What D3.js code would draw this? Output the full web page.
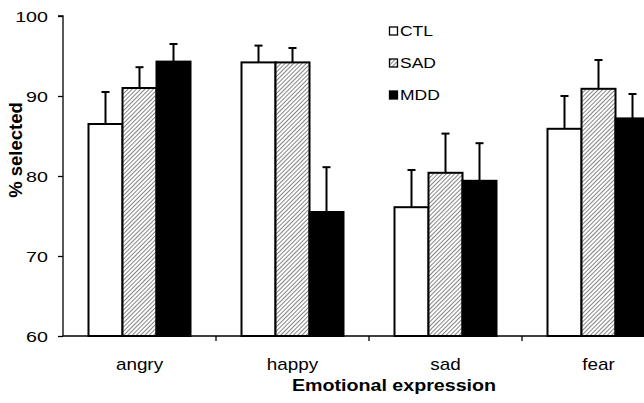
<!DOCTYPE html>
<html><head><meta charset="utf-8">
<script src="https://cdn.jsdelivr.net/npm/d3@7"></script>
<style>body{margin:0;background:#fff}svg{display:block}text{font-family:"Liberation Sans",Arial,sans-serif;fill:#000}</style>
</head><body><svg id="c" width="644" height="403"></svg>
<script>
const categories = ["angry","happy","sad","fear"];
const series = ["CTL","SAD","MDD"];
const CTL = [86.5, 94.2, 76.1, 85.9];
const SAD = [91.0, 94.2, 80.4, 90.9];
const MDD = [94.3, 75.5, 79.4, 87.2];
const CTL_err = [4.0, 2.1, 4.65, 4.1];
const SAD_err = [2.6, 1.8, 4.9, 3.6];
const MDD_err = [2.2, 5.6, 4.7, 3.05];
const yTicks = [60,70,80,90,100];
const xTitle = "Emotional expression";
const yTitle = "% selected";

const values = {CTL, SAD, MDD};
const errs = {CTL: CTL_err, SAD: SAD_err, MDD: MDD_err};

const svg = d3.select("#c");
const defs = svg.append("defs");
const pat = defs.append("pattern").attr("id","hatch").attr("patternUnits","userSpaceOnUse")
  .attr("width",3).attr("height",3).attr("patternTransform","rotate(45)");
pat.append("rect").attr("width",3).attr("height",3).attr("fill","#fff");
pat.append("line").attr("x1",0).attr("y1",0).attr("x2",0).attr("y2",3).attr("stroke","#333").attr("stroke-width",1.2);

const x0 = 63, y0 = 336;
const x = d3.scaleBand().domain(categories).range([x0, x0 + 4*153]).padding(0);
const xs = d3.scaleBand().domain(series).range([25.5, 127.5]).padding(0);
const y = d3.scaleLinear().domain([60,100]).range([y0, 16]);

const fills = {CTL:"#fff", SAD:"url(#hatch)", MDD:"#000"};

function stxt(g, tx, ty, str, size, sx, anchor, bold){
  return g.append("text").attr("transform",`translate(${tx},${ty}) scale(${sx},1)`)
    .attr("text-anchor",anchor).attr("font-size",size)
    .attr("font-weight",bold?"bold":"normal").text(str);
}

const rows = [];
categories.forEach((c,i)=>series.forEach(s=>rows.push({c, s, v: values[s][i], e: errs[s][i]})));

// error bars
const eb = svg.append("g").attr("stroke","#000").attr("stroke-width",2);
rows.forEach(d=>{
  const cx = x(d.c) + xs(d.s) + xs.bandwidth()/2;
  eb.append("line").attr("x1",cx).attr("x2",cx).attr("y1",y(d.v)).attr("y2",y(d.v+d.e));
  eb.append("line").attr("x1",cx-4).attr("x2",cx+4).attr("y1",y(d.v+d.e)).attr("y2",y(d.v+d.e));
});

svg.append("g").selectAll("rect").data(rows).join("rect")
  .attr("x", d=>x(d.c)+xs(d.s))
  .attr("y", d=>y(d.v))
  .attr("width", xs.bandwidth())
  .attr("height", d=>y0 - y(d.v))
  .attr("fill", d=>fills[d.s])
  .attr("stroke","#000").attr("stroke-width",2);

// y axis
const ya = svg.append("g").attr("transform",`translate(${x0},0)`)
  .call(d3.axisLeft(y).tickValues(yTicks).tickSize(5).tickFormat(""));
ya.select(".domain").attr("stroke","#000").attr("stroke-width",1.3).attr("d",`M-5,${y(100)}H0V${y0}`);
ya.selectAll(".tick line").attr("stroke","#000").attr("stroke-width",1.3);
const yl = svg.append("g");
yTicks.forEach(t=>stxt(yl, 48, y(t)+5.5, String(t), 15.5, 1.27, "end", false));

// x axis
const xa = svg.append("g").attr("transform",`translate(0,${y0})`);
xa.append("line").attr("x1",x0).attr("x2",644).attr("y1",0).attr("y2",0).attr("stroke","#000").attr("stroke-width",1.3);
categories.slice(1).forEach(c=>{
  xa.append("line").attr("x1",x(c)).attr("x2",x(c)).attr("y1",0).attr("y2",5).attr("stroke","#000").attr("stroke-width",1.3);
});
categories.forEach(c=>stxt(xa, x(c)+x.bandwidth()/2, 34, c, 16, 1.18, "middle", false));

stxt(svg, 394, 391, xTitle, 16.8, 1.17, "middle", true);
svg.append("text").attr("transform","translate(22,150) rotate(-90)").attr("text-anchor","middle")
  .attr("font-size",18.5).attr("font-weight","bold").text(yTitle);

// legend
const lg = svg.append("g");
series.forEach((s,i)=>{
  const cy = 31 + i*32;
  lg.append("rect").attr("x",389.5).attr("y",cy-4).attr("width",8).attr("height",8)
    .attr("fill", fills[s]).attr("stroke","#000").attr("stroke-width",1.3);
  stxt(lg, 400, cy+5, s, 14, 1.25, "start", false);
});
</script></body></html>
